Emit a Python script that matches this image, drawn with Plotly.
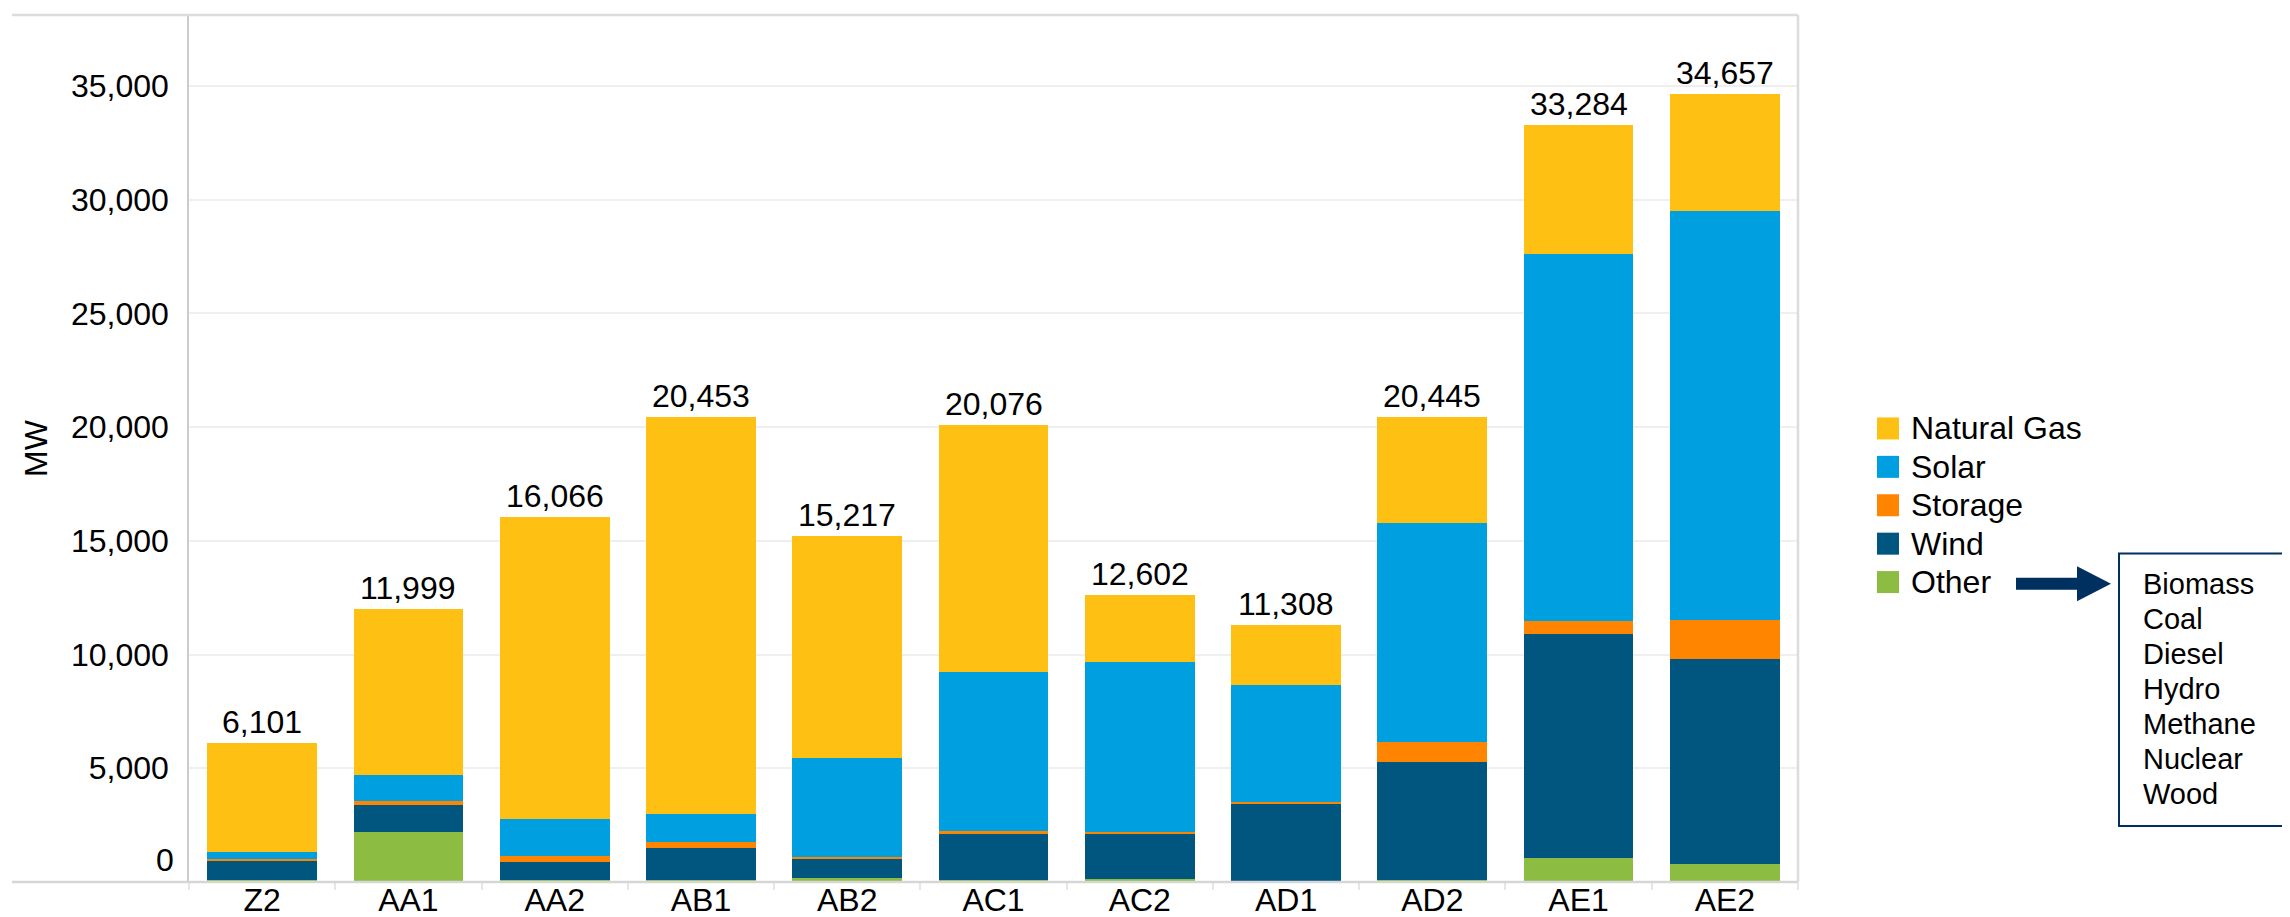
import plotly.graph_objects as go

categories = ["Z2", "AA1", "AA2", "AB1", "AB2", "AC1", "AC2", "AD1", "AD2", "AE1", "AE2"]
other   = [110, 2220, 100, 100, 190, 100, 150, 0, 75, 1055, 790]
wind    = [830, 1160, 770, 1390, 825, 2045, 1975, 3445, 5205, 9870, 9020]
storage = [70, 200, 290, 290, 75, 85, 75, 75, 865, 570, 1690]
solar   = [290, 1130, 1610, 1190, 4345, 7015, 7465, 5160, 9655, 16125, 18010]
natural_gas = [4801, 7289, 13296, 17483, 9782, 10831, 2937, 2628, 4645, 5664, 5147]
legend_order = ["Natural Gas", "Solar", "Storage", "Wind", "Other"]
other_components = ["Biomass", "Coal", "Diesel", "Hydro", "Methane", "Nuclear", "Wood"]
y_ticks = [0, 5000, 10000, 15000, 20000, 25000, 30000, 35000]

COLORS = {
    "Natural Gas": "#FDC013",
    "Solar": "#009FE0",
    "Storage": "#FF8500",
    "Wind": "#00567F",
    "Other": "#8DBC42",
}
NAVY = "#00305F"
FONT = "Liberation Sans, Arial, sans-serif"

W, H = 2290, 917
L, R, T, B = 181, 1790, 7.3, 874.2


def px(x):
    return (x - L) / (R - L)


def py(y):
    return (B - y) / (B - T)


series = [("Other", other), ("Wind", wind), ("Storage", storage),
          ("Solar", solar), ("Natural Gas", natural_gas)]

fig = go.Figure()
for name, vals in series:
    fig.add_trace(go.Bar(
        x=categories, y=vals, name=name, showlegend=False,
        marker=dict(color=COLORS[name], line=dict(width=0)),
    ))

totals = [sum(v) for v in zip(other, wind, storage, solar, natural_gas)]
annotations = []
shapes = []
for c, t in zip(categories, totals):
    annotations.append(dict(
        x=c, y=t, xref="x", yref="y", text=f"{t:,}", showarrow=False,
        yanchor="bottom", yshift=1, font=dict(size=32, color="#000", family=FONT),
    ))

# zero tick label (raised, as in the reference)
annotations.append(dict(
    x=0, xref="paper", xanchor="right", xshift=-13, y=0, yref="y",
    yanchor="middle", yshift=22, text="0", showarrow=False,
    font=dict(size=32, color="#000", family=FONT),
))

# legend (drawn swatches + labels)
for i, name in enumerate(legend_order):
    yc = 420.7 + 38.4 * i
    shapes.append(dict(
        type="rect", xref="paper", yref="paper",
        x0=px(1869), x1=px(1891), y0=py(yc + 11), y1=py(yc - 11),
        fillcolor=COLORS[name], line=dict(width=0),
    ))
    annotations.append(dict(
        x=px(1901), y=py(yc), xref="paper", yref="paper",
        xanchor="left", yanchor="middle", text=name, showarrow=False,
        font=dict(size=32, color="#000", family=FONT),
    ))

# "Other" breakdown box text
for i, name in enumerate(other_components):
    annotations.append(dict(
        x=px(2133), y=py(576 + 35.1 * i), xref="paper", yref="paper",
        xanchor="left", yanchor="middle", text=name, showarrow=False,
        font=dict(size=29, color="#000", family=FONT),
    ))

shapes += [
    # frame lines
    dict(type="line", xref="paper", yref="paper", x0=px(4), x1=px(1790), y0=1, y1=1,
         line=dict(color="#dcdcdc", width=2.5)),
    dict(type="line", xref="paper", yref="paper", x0=px(4), x1=px(1790), y0=0, y1=0,
         line=dict(color="#d6d6d6", width=2.5)),
    dict(type="line", xref="paper", yref="paper", x0=1, x1=1, y0=0, y1=1,
         line=dict(color="#dcdcdc", width=2.5)),
    # arrow
    dict(type="path", xref="paper", yref="paper",
         path=(f"M{px(2008)},{py(570)} L{px(2069)},{py(570)} L{px(2069)},{py(558.5)} "
               f"L{px(2103)},{py(576)} L{px(2069)},{py(593.5)} L{px(2069)},{py(582)} "
               f"L{px(2008)},{py(582)} Z"),
         fillcolor=NAVY, line=dict(width=0)),
    # box
    dict(type="rect", xref="paper", yref="paper",
         x0=px(2111), x1=px(2284), y0=py(818.3), y1=py(545.7),
         line=dict(color=NAVY, width=2), fillcolor="rgba(0,0,0,0)"),
]

fig.update_layout(
    width=W, height=H,
    barmode="stack", bargap=0.25,
    plot_bgcolor="white", paper_bgcolor="white",
    margin=dict(l=L, r=W - R, t=7, b=H - 874, autoexpand=False),
    font=dict(family=FONT, size=32, color="#000"),
    showlegend=False,
    annotations=annotations,
    shapes=shapes,
)

fig.update_xaxes(
    showgrid=False, showline=False, zeroline=False,
    ticks="outside", tickson="boundaries", ticklen=7, tickcolor="#e6e6e6", tickwidth=1.5,
    ticklabelstandoff=-4,
    tickfont=dict(size=32, family=FONT, color="#000"),
    range=[-0.5, len(categories) - 0.5],
)
fig.update_yaxes(
    range=[0, 5000 * (B - T) / 113.7],
    tickvals=y_ticks[1:], ticktext=[f"{v:,}" for v in y_ticks[1:]],
    showgrid=True, gridcolor="#efefef", gridwidth=1.5,
    zeroline=False, showline=True, linecolor="#cccccc", linewidth=1.5,
    ticks="", ticklabelstandoff=12,
    tickfont=dict(size=32, family=FONT, color="#000"),
    title=dict(text="MW", font=dict(size=32, family=FONT, color="#000"), standoff=14),
)

fig.write_html("out.html")
